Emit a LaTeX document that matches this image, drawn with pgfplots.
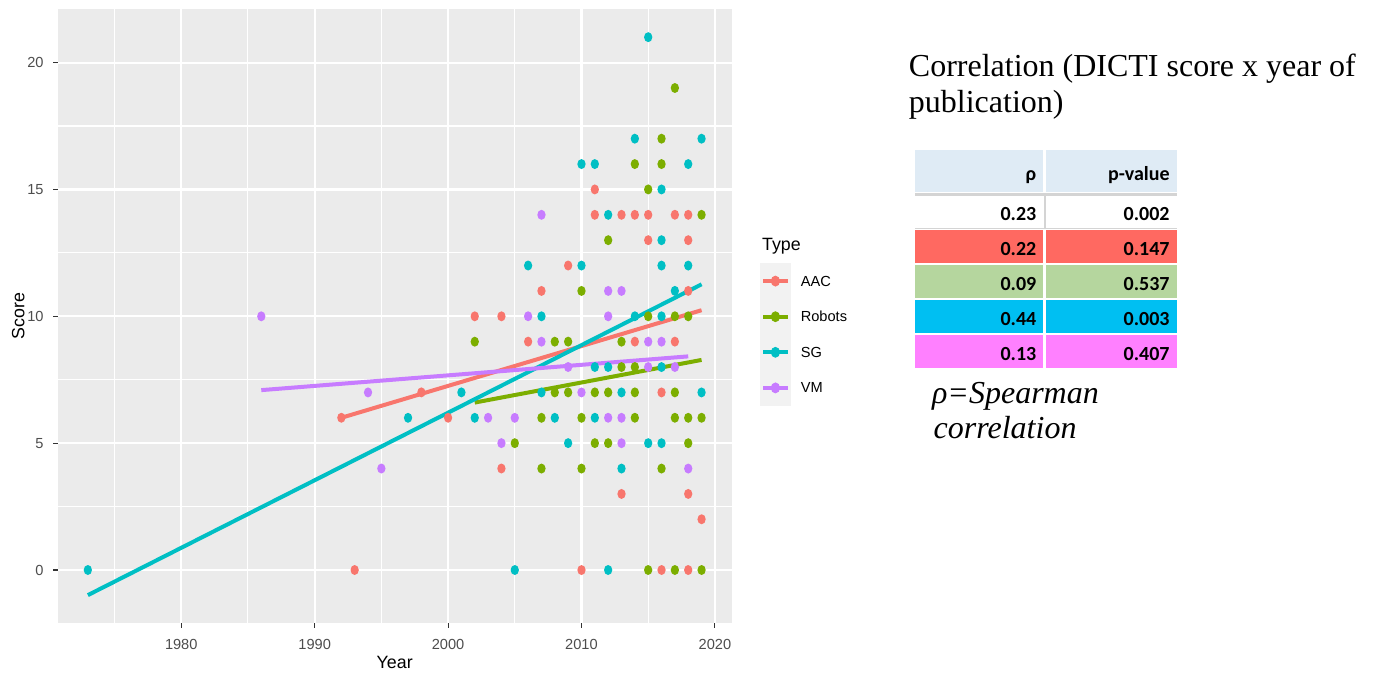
\documentclass[border=0pt]{standalone}
\usepackage{pgfplots}
\pgfplotsset{compat=1.18}
\usepackage{fontspec}
\setmainfont{Liberation Sans}
\newfontfamily\serif{Liberation Serif}
\newfontfamily\calibri{Carlito}
\definecolor{cAAC}{HTML}{F8766D}
\definecolor{cRob}{HTML}{7CAE00}
\definecolor{cSG}{HTML}{00BFC4}
\definecolor{cVM}{HTML}{C77CFF}
\definecolor{ggbg}{HTML}{EBEBEB}
\definecolor{keybg}{HTML}{F2F2F2}
\definecolor{gg30}{HTML}{4D4D4D}
\definecolor{gg20}{HTML}{333333}
\definecolor{thead}{HTML}{DFEBF5}
\definecolor{tred}{HTML}{FF6961}
\definecolor{tgreen}{HTML}{B5D69E}
\definecolor{tblue}{HTML}{00BFF2}
\definecolor{tmag}{HTML}{FF80FF}
\definecolor{tline}{HTML}{D4D4D4}
\pgfdeclareplotmark{ggdot}{%
  \pgfpathellipse{\pgfpointorigin}{\pgfqpoint{0.83\pgfplotmarksize}{0pt}}{\pgfqpoint{0pt}{\pgfplotmarksize}}%
  \pgfusepathqfill}
\pgfplotsset{
  ggkey/.style={legend image code/.code={
    \fill[keybg] (0pt,-8.7pt) rectangle (15pt,8.7pt);
    \path (20pt,0pt);
    \draw[#1,line width=2pt] (1.3pt,0pt) -- (13.7pt,0pt);
    \fill[#1] (7.5pt,0pt) ellipse [x radius=2.1pt, y radius=2.5pt];
  }},
  ggpt/.style={only marks, mark=ggdot, color=#1, fill=#1, mark size=2.5pt, ggkey=#1},
  ggline/.style={no marks, line width=2pt, color=#1, forget plot},
}
\begin{document}
\begin{tikzpicture}
\useasboundingbox (0,0) rectangle (688pt,336.5pt);
\fill[white] (0,0) rectangle (688pt,336.5pt);
\begin{axis}[
  at={(28.85pt,24.85pt)}, anchor=south west,
  scale only axis, width=337pt, height=307pt,
  xmin=1970.74, xmax=2021.26, ymin=-2.1, ymax=22.1,
  axis lines*=left, axis line style={draw=none},
  axis background/.style={fill=ggbg},
  xtick={1980,1990,2000,2010,2020}, xticklabels={1980,1990,2000,2010,2020},
  ytick={0,5,10,15,20}, yticklabels={0,5,10,15,20},
  minor xtick={1975,1985,1995,2005,2015},
  minor ytick={2.5,7.5,12.5,17.5},
  grid=both,
  major grid style={white, line width=1.07pt},
  minor grid style={white, line width=0.53pt},
  tick align=outside, major tick length=2.2pt, minor tick length=0pt,
  major tick style={gg20, line width=0.55pt},
  minor tick style={draw=none},
  xticklabel style={font=\fontsize{7.3}{8}\selectfont, text=gg30, inner sep=0pt, anchor=north, yshift=-5.5pt},
  yticklabel style={font=\fontsize{7.3}{8}\selectfont, text=gg30, inner sep=0pt, anchor=east, xshift=-4.7pt},
  legend style={at={(axis description cs:1.042,0.5863)}, anchor=north west, draw=none, fill=none,
    font=\fontsize{7.3}{8}\selectfont, row sep=0pt, inner sep=0pt, outer sep=0pt,
    nodes={inner sep=0pt, text depth={}}},
  legend cell align=left,
]
\addplot[ggpt=cAAC] table {
1992 6
1993 0
1998 7
2000 6
2002 10
2004 10
2004 4
2006 9
2007 11
2009 12
2010 0
2011 15
2011 14
2013 14
2013 3
2014 14
2014 9
2015 14
2015 13
2016 7
2016 0
2017 14
2017 9
2018 14
2018 13
2018 11
2018 3
2018 0
2019 2
};
\addlegendentry{AAC}
\addplot[ggpt=cRob] table {
2002 9
2005 5
2007 6
2007 4
2008 9
2008 7
2009 9
2009 7
2010 11
2010 6
2010 4
2011 7
2011 5
2012 13
2012 7
2012 5
2013 9
2013 8
2014 16
2014 8
2014 7
2014 6
2015 15
2015 10
2015 0
2016 17
2016 16
2016 4
2017 19
2017 10
2017 7
2017 6
2017 0
2018 10
2018 6
2018 5
2019 14
2019 6
2019 0
};
\addlegendentry{Robots}
\addplot[ggpt=cSG] table {
1973 0
1997 6
2001 7
2002 6
2005 0
2006 12
2007 10
2007 7
2008 6
2009 5
2010 16
2010 12
2011 16
2011 8
2011 6
2012 14
2012 8
2012 0
2013 7
2013 4
2014 17
2014 10
2015 21
2015 5
2016 15
2016 13
2016 12
2016 10
2016 8
2016 5
2017 11
2018 16
2018 12
2019 17
2019 7
};
\addlegendentry{SG}
\addplot[ggpt=cVM] table {
1986 10
1994 7
1995 4
2003 6
2004 5
2005 6
2006 10
2007 14
2007 9
2009 8
2010 7
2012 11
2012 10
2012 6
2013 11
2013 6
2013 5
2015 9
2015 8
2016 9
2017 8
2018 4
};
\addlegendentry{VM}
\addplot[ggline=cAAC] coordinates {(1992,6.0) (2019,10.24)};
\addplot[ggline=cRob] coordinates {(2002,6.6) (2019,8.28)};
\addplot[ggline=cSG] coordinates {(1973,-0.99) (2019,11.26)};
\addplot[ggline=cVM] coordinates {(1986,7.09) (2018,8.42)};
\end{axis}
\begin{scope}[x=0.5pt,y=-0.5pt,yshift=336.5pt]
% axis titles and legend title
\node[anchor=base, inner sep=0pt, font=\fontsize{8.9}{10}\selectfont] at (394.7,669) {Year};
\node[anchor=base, rotate=90, inner sep=0pt, font=\fontsize{8.9}{10}\selectfont] at (24.3,316.3) {Score};
\node[anchor=base west, inner sep=0pt, font=\fontsize{8.9}{10}\selectfont] at (761.7,250.7) {Type};
% title
\node[anchor=base west, inner sep=0pt, font=\serif\fontsize{16}{18}\selectfont] at (908.5,76.7) {Correlation (DICTI score x year of};
\node[anchor=base west, inner sep=0pt, font=\serif\fontsize{16}{18}\selectfont] at (908.5,112.7) {publication)};
% table
\fill[thead] (915,150) rectangle (1043.3,191.7);
\fill[thead] (1045.7,150) rectangle (1176.7,191.7);
\fill[tline] (915,193.3) rectangle (1176.7,196);
\fill[tline] (1043.5,196) rectangle (1045.5,227.7);
\fill[tline] (915,227.7) rectangle (1176.7,229);
\fill[tred] (915,230) rectangle (1043.3,262.7);
\fill[tred] (1045.7,230) rectangle (1176.7,262.7);
\fill[tgreen] (915,265) rectangle (1043.3,297.7);
\fill[tgreen] (1045.7,265) rectangle (1176.7,297.7);
\fill[tblue] (915,300) rectangle (1043.3,332.7);
\fill[tblue] (1045.7,300) rectangle (1176.7,332.7);
\fill[tmag] (915,335) rectangle (1043.3,367.7);
\fill[tmag] (1045.7,335) rectangle (1176.7,367.7);
\begin{scope}[every node/.style={anchor=base east, inner sep=0pt, font=\calibri\bfseries\fontsize{10}{12}\selectfont}]
\node at (1036.7,180.7) {ρ};
\node at (1170,180.7) {p-value};
\node at (1036.7,220.7) {0.23};
\node at (1170,220.7) {0.002};
\node at (1036.7,255.7) {0.22};
\node at (1170,255.7) {0.147};
\node at (1036.7,290.7) {0.09};
\node at (1170,290.7) {0.537};
\node at (1036.7,325.7) {0.44};
\node at (1170,325.7) {0.003};
\node at (1036.7,360.7) {0.13};
\node at (1170,360.7) {0.407};
\end{scope}
% footnote
\node[anchor=base west, inner sep=0pt, font=\serif\itshape\fontsize{16}{18}\selectfont] at (931.7,403.3) {ρ=Spearman};
\node[anchor=base west, inner sep=0pt, font=\serif\itshape\fontsize{16}{18}\selectfont] at (933.3,439) {correlation};
\end{scope}
\end{tikzpicture}
\end{document}
